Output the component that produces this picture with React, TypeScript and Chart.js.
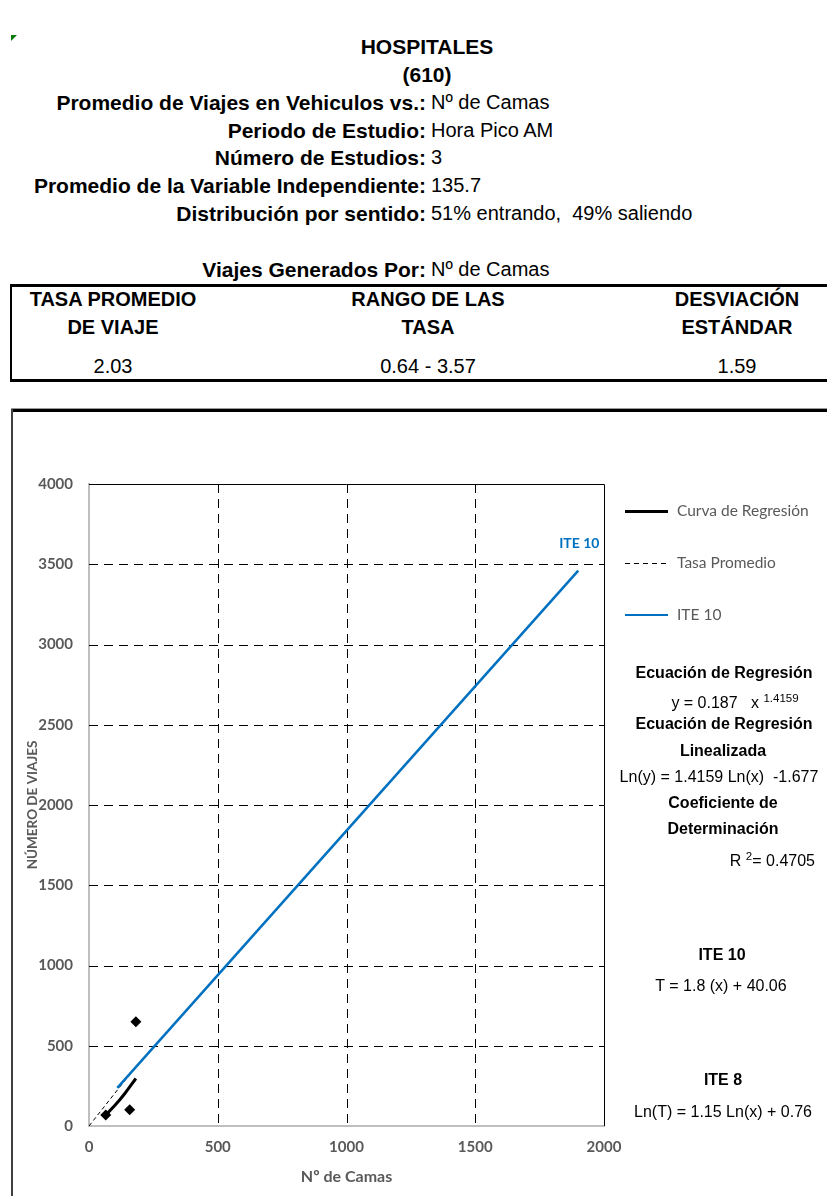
import React, { useEffect, useRef } from 'react';
import { Chart, registerables } from 'chart.js';

Chart.register(...registerables);

// Axis ticks
const X_TICKS = [0, 500, 1000, 1500, 2000];
const Y_TICKS = [0, 500, 1000, 1500, 2000, 2500, 3000, 3500, 4000];

// Observed studies (beds, trips)
const STUDY_BEDS = [182, 158, 65];
const STUDY_TRIPS = [650, 101, 68];

// Regression curve y = 0.187 x^1.4159 over the studied range
const REGRESSION_BEDS = [65, 100, 140, 182];
const REGRESSION_TRIPS = [69, 127, 204, 296];

// Average rate line (2.03 trips per bed)
const AVG_RATE_BEDS = [0, 182];
const AVG_RATE_TRIPS = [0, 370];

// ITE 10: T = 1.8 (x) + 40.06
const ITE10_BEDS = [110, 1900];
const ITE10_TRIPS = [238, 3460];

// Header summary
const SUMMARY_LABELS = [
  'Promedio de Viajes en Vehiculos vs.:',
  'Periodo de Estudio:',
  'Número de Estudios:',
  'Promedio de la Variable Independiente:',
  'Distribución por sentido:',
];
const SUMMARY_VALUES = ['Nº de Camas', 'Hora Pico AM', '3', '135.7', '51% entrando,  49% saliendo'];

const TABLE_HEADERS = [
  ['TASA PROMEDIO', 'DE VIAJE'],
  ['RANGO DE LAS', 'TASA'],
  ['DESVIACIÓN', 'ESTÁNDAR'],
];
const TABLE_VALUES = ['2.03', '0.64 - 3.57', '1.59'];

const LEGEND_LABELS = ['Curva de Regresión', 'Tasa Promedio', 'ITE 10'];

const PAGE_W = 827;
const SANS = '"Liberation Sans", Arial, sans-serif';
const CAL = 'Lato, "Open Sans", sans-serif';
const GRAY = '#595959';
const BLUE = '#0070C0';

type TxtProps = {
  x: number;
  y: number;
  align?: 'left' | 'right' | 'center';
  size?: number;
  bold?: boolean;
  color?: string;
  font?: string;
  pre?: boolean;
  children: React.ReactNode;
};

function Txt({ x, y, align = 'left', size = 20, bold = false, color = '#000', font = SANS, pre = false, children }: TxtProps) {
  const style: React.CSSProperties = {
    position: 'absolute',
    top: y - size / 2,
    lineHeight: size + 'px',
    fontSize: size,
    fontWeight: bold ? 700 : 400,
    color,
    fontFamily: font,
    whiteSpace: pre ? 'pre' : 'nowrap',
  };
  if (align === 'left') style.left = x;
  else if (align === 'right') style.right = PAGE_W - x;
  else {
    style.left = x - 300;
    style.width = 600;
    style.textAlign = 'center';
  }
  return <div style={style}>{children}</div>;
}

const gridPlugin = {
  id: 'dashedGrid',
  beforeDatasetsDraw(chart: any) {
    const { ctx, chartArea: a, scales } = chart;
    const xs = scales.x;
    const ys = scales.y;
    ctx.save();
    ctx.strokeStyle = '#000';
    ctx.lineWidth = 1;
    ctx.setLineDash([9, 6]);
    X_TICKS.slice(1, -1).forEach((v) => {
      const px = Math.round(xs.getPixelForValue(v)) + 0.5;
      ctx.beginPath();
      ctx.moveTo(px, a.top);
      ctx.lineTo(px, a.bottom);
      ctx.stroke();
    });
    Y_TICKS.slice(1, -1).forEach((v) => {
      const py = Math.round(ys.getPixelForValue(v)) + 0.5;
      ctx.beginPath();
      ctx.moveTo(a.left, py);
      ctx.lineTo(a.right, py);
      ctx.stroke();
    });
    ctx.setLineDash([]);
    const top = Math.round(ys.getPixelForValue(Y_TICKS[Y_TICKS.length - 1])) + 0.5;
    const right = Math.round(xs.getPixelForValue(X_TICKS[X_TICKS.length - 1])) + 0.5;
    ctx.beginPath();
    ctx.moveTo(a.left, top);
    ctx.lineTo(right, top);
    ctx.lineTo(right, a.bottom);
    ctx.stroke();
    ctx.restore();
  },
  afterDatasetsDraw(chart: any) {
    const { ctx, scales } = chart;
    const n = ITE10_BEDS.length - 1;
    const px = scales.x.getPixelForValue(ITE10_BEDS[n]);
    const py = scales.y.getPixelForValue(ITE10_TRIPS[n]);
    ctx.save();
    ctx.fillStyle = BLUE;
    ctx.font = 'bold 14px ' + CAL;
    ctx.textAlign = 'center';
    ctx.textBaseline = 'middle';
    ctx.fillText('ITE 10', px + 1, py - 27);
    ctx.restore();
  },
};

function TripChart() {
  const ref = useRef<HTMLCanvasElement | null>(null);
  useEffect(() => {
    if (!ref.current) return;
    const pts = (xs: number[], ys: number[]) => xs.map((x, i) => ({ x, y: ys[i] }));
    const tickFont = { family: CAL, size: 15, weight: 'bold' };
    const chart = new Chart(ref.current, {
      type: 'scatter',
      data: {
        datasets: [
          {
            label: 'Estudios',
            data: pts(STUDY_BEDS, STUDY_TRIPS),
            pointStyle: 'rectRot',
            pointRadius: 5.5,
            backgroundColor: '#000',
            borderColor: '#000',
            borderWidth: 0,
            order: 0,
          },
          {
            label: LEGEND_LABELS[0],
            data: pts(REGRESSION_BEDS, REGRESSION_TRIPS),
            showLine: true,
            borderColor: '#000',
            borderWidth: 3,
            pointRadius: 0,
            cubicInterpolationMode: 'monotone',
            order: 1,
          },
          {
            label: LEGEND_LABELS[1],
            data: pts(AVG_RATE_BEDS, AVG_RATE_TRIPS),
            showLine: true,
            borderColor: '#000',
            borderWidth: 1,
            borderDash: [4, 3],
            pointRadius: 0,
            order: 3,
          },
          {
            label: LEGEND_LABELS[2],
            data: pts(ITE10_BEDS, ITE10_TRIPS),
            showLine: true,
            borderColor: BLUE,
            borderWidth: 2.5,
            pointRadius: 0,
            order: 2,
          },
        ],
      },
      options: {
        animation: false,
        responsive: false,
        devicePixelRatio: 1,
        layout: { padding: { left: 0, top: 64, right: 223, bottom: 0 } },
        plugins: { legend: { display: false }, tooltip: { enabled: false } },
        scales: {
          x: {
            type: 'linear',
            min: 0,
            max: 2000,
            afterFit: (s: any) => {
              s.height = 70;
            },
            afterBuildTicks: (s: any) => {
              s.ticks = X_TICKS.map((v) => ({ value: v }));
            },
            grid: { display: false, drawTicks: false },
            border: { display: true, color: '#BFBFBF', width: 2 },
            ticks: { padding: 12, color: GRAY, font: tickFont, callback: (v: any) => String(v) },
            title: {
              display: true,
              text: 'Nº de Camas',
              color: GRAY,
              padding: { top: 0, bottom: 10 },
              font: { family: CAL, size: 16, weight: 'bold' },
            },
          },
          y: {
            type: 'linear',
            min: 0,
            max: 4000,
            afterFit: (s: any) => {
              s.width = 89;
            },
            afterBuildTicks: (s: any) => {
              s.ticks = Y_TICKS.map((v) => ({ value: v }));
            },
            grid: { display: false, drawTicks: false },
            border: { display: true, color: '#BFBFBF', width: 2 },
            ticks: { padding: 16, color: GRAY, font: tickFont, callback: (v: any) => String(v) },
            title: {
              display: true,
              text: 'NÚMERO DE VIAJES',
              color: GRAY,
              padding: { top: 25, bottom: 0 },
              font: { family: CAL, size: 13.5, weight: 'bold' },
            },
          },
        },
      },
      plugins: [gridPlugin],
    } as any);
    return () => chart.destroy();
  }, []);
  return (
    <canvas
      ref={ref}
      width={PAGE_W}
      height={776}
      style={{ position: 'absolute', left: 0, top: 420, width: PAGE_W, height: 776 }}
    />
  );
}

function LegendRow({ y, kind, label }: { y: number; kind: 'solid' | 'dash' | 'blue'; label: string }) {
  const line: React.CSSProperties = { position: 'absolute', left: 625, width: 43 };
  if (kind === 'solid') Object.assign(line, { top: y - 1.5, height: 3, background: '#000' });
  if (kind === 'blue') Object.assign(line, { top: y - 1.25, height: 2.5, background: BLUE });
  if (kind === 'dash')
    Object.assign(line, {
      top: y,
      height: 1,
      backgroundImage: 'repeating-linear-gradient(to right, #000 0 5px, transparent 5px 9px)',
    });
  return (
    <>
      <div style={line} />
      <Txt x={677} y={y} size={15.5} font={CAL} color={GRAY}>
        {label}
      </Txt>
    </>
  );
}

export default function App() {
  const rowYs = [102, 130, 157, 185, 213];
  const colX = [113, 428, 737];
  const eqX = 723;
  const sup: React.CSSProperties = { fontSize: 11.5, verticalAlign: 6 };
  return (
    <div
      style={{
        position: 'absolute',
        left: 0,
        top: 0,
        width: PAGE_W,
        height: 1196,
        overflow: 'hidden',
        background: '#fff',
      }}
    >
      {/* note marker */}
      <div
        style={{
          position: 'absolute',
          left: 11,
          top: 35,
          width: 6,
          height: 6,
          background: '#0a7a0a',
          clipPath: 'polygon(0 0, 100% 0, 0 100%)',
        }}
      />
      <Txt x={427} y={46} align="center" size={21} bold>
        HOSPITALES
      </Txt>
      <Txt x={427} y={74} align="center" size={21} bold>
        (610)
      </Txt>
      {SUMMARY_LABELS.map((l, i) => (
        <React.Fragment key={l}>
          <Txt x={426} y={rowYs[i]} align="right" size={21} bold>
            {l}
          </Txt>
          <Txt x={431} y={rowYs[i]} pre>
            {SUMMARY_VALUES[i]}
          </Txt>
        </React.Fragment>
      ))}
      <Txt x={426} y={269} align="right" size={21} bold>
        Viajes Generados Por:
      </Txt>
      <Txt x={431} y={269}>
        Nº de Camas
      </Txt>

      {/* rate table */}
      <div style={{ position: 'absolute', left: 11, top: 284, width: PAGE_W - 11, height: 3, background: '#000' }} />
      <div style={{ position: 'absolute', left: 11, top: 379, width: PAGE_W - 11, height: 3, background: '#000' }} />
      <div style={{ position: 'absolute', left: 10, top: 284, width: 2, height: 98, background: '#000' }} />
      {TABLE_HEADERS.map((h, i) => (
        <React.Fragment key={h[0]}>
          <Txt x={colX[i]} y={299} align="center" bold>
            {h[0]}
          </Txt>
          <Txt x={colX[i]} y={327} align="center" bold>
            {h[1]}
          </Txt>
          <Txt x={colX[i]} y={366} align="center">
            {TABLE_VALUES[i]}
          </Txt>
        </React.Fragment>
      ))}

      {/* chart frame */}
      <div style={{ position: 'absolute', left: 11, top: 408, width: PAGE_W - 11, height: 1, background: '#9a9a9a' }} />
      <div style={{ position: 'absolute', left: 11, top: 409, width: PAGE_W - 11, height: 3, background: '#000' }} />
      <div style={{ position: 'absolute', left: 11, top: 409, width: 2, height: 1196 - 409, background: '#404040' }} />

      <TripChart />

      <LegendRow y={511} kind="solid" label={LEGEND_LABELS[0]} />
      <LegendRow y={563} kind="dash" label={LEGEND_LABELS[1]} />
      <LegendRow y={615} kind="blue" label={LEGEND_LABELS[2]} />

      <Txt x={eqX + 1} y={673} align="center" size={16} bold>
        Ecuación de Regresión
      </Txt>
      <Txt x={eqX + 12} y={698} align="center" size={16}>
        y = 0.187 &nbsp; x <sup style={sup}>1.4159</sup>
      </Txt>
      <Txt x={eqX + 1} y={724} align="center" size={16} bold>
        Ecuación de Regresión
      </Txt>
      <Txt x={eqX} y={751} align="center" size={16} bold>
        Linealizada
      </Txt>
      <Txt x={eqX - 4} y={777} align="center" size={16}>
        Ln(y) = 1.4159 Ln(x) &nbsp;-1.677
      </Txt>
      <Txt x={eqX} y={803} align="center" size={16} bold>
        Coeficiente de
      </Txt>
      <Txt x={eqX} y={829} align="center" size={16} bold>
        Determinación
      </Txt>
      <Txt x={815} y={856} align="right" size={16}>
        R <sup style={sup}>2</sup>= 0.4705
      </Txt>
      <Txt x={eqX - 1} y={955} align="center" size={16} bold>
        ITE 10
      </Txt>
      <Txt x={eqX - 2} y={986} align="center" size={16}>
        T = 1.8 (x) + 40.06
      </Txt>
      <Txt x={eqX} y={1080} align="center" size={16} bold>
        ITE 8
      </Txt>
      <Txt x={eqX} y={1112} align="center" size={16}>
        Ln(T) = 1.15 Ln(x) + 0.76
      </Txt>
    </div>
  );
}
